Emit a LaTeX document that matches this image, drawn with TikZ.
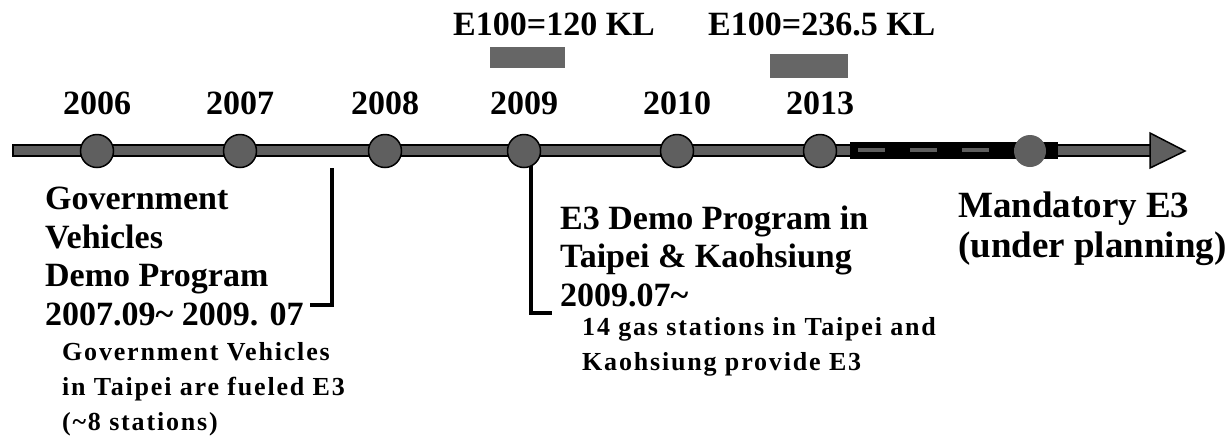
\documentclass[tikz,border=0pt]{standalone}
\usepackage{fontspec}
\setmainfont{Liberation Serif}
\usetikzlibrary{calc,positioning}
\definecolor{axisgray}{HTML}{5F5F5F}
\definecolor{bargray}{HTML}{666666}
\tikzset{
  year/.style={circle, minimum size=33pt, inner sep=0pt, fill=axisgray,
    draw=black, line width=1.5pt},
  yearlabel/.style={font=\bfseries\fontsize{34}{38}\selectfont,
    inner sep=0pt, anchor=base},
  bigtext/.style={font=\bfseries\fontsize{34}{38.5}\selectfont,
    inner sep=0pt, anchor=base west, align=left},
  smalltext/.style={font=\bfseries\fontsize{26}{35}\selectfont\addfontfeatures{LetterSpace=7},
    inner sep=0pt, anchor=base west, align=left},
  bracket/.style={line width=4.5pt},
}

\begin{document}
\begin{tikzpicture}[x=1pt, y=-1pt]
  \useasboundingbox (0,0) rectangle (1231,440);

  % time axis
  \draw[fill=axisgray, line width=1.5pt] (13,145) rectangle (1152,156);
  \draw[fill=axisgray, line width=1.5pt] (1150,133) -- (1185,151) -- (1150,168) -- cycle;

  % planned stretch
  \fill (850,142) rectangle (1058,159);
  \draw[axisgray, line width=4pt, dash pattern=on 27pt off 25pt] (858,150) -- (1030,150);
  \node[circle, fill=axisgray, minimum size=32pt, inner sep=0pt] (plan) at (1030,151) {};

  % years
  \foreach \yr/\xx in {2006/97, 2007/240, 2008/385, 2009/524, 2010/677, 2013/820} {
    \node[year] (y\yr) at (\xx,151) {};
    \node[yearlabel] (l\yr) at (\xx,114) {\yr};
  }

  % volumes
  \fill[bargray] (490,47) rectangle (565,68);
  \fill[bargray] (770,54) rectangle (848,78);
  \node[bigtext] (e120) at (453,35) {E100=120 KL};
  \node[bigtext] (e236) at (708,35) {E100=236.5 KL};

  % government vehicles (anchor = last baseline)
  \coordinate (gvtop) at (332,168);
  \coordinate (gvend) at (310,305);
  \draw[bracket] (gvtop) |- (gvend);
  \node[bigtext] (govprog) at (45,325) {Government\\Vehicles\\Demo Program\\2007.09\textasciitilde{} 2009. 07};
  \node[smalltext] (govnote) at (62,430) {Government Vehicles\\in Taipei are fueled E3\\(\textasciitilde 8 stations)};

  % E3 demo program
  \coordinate (e3top) at (531,166);
  \coordinate (e3end) at (552,313);
  \draw[bracket] (e3top) |- (e3end);
  \node[bigtext] (e3prog) at (560,306) {E3 Demo Program in\\Taipei \& Kaohsiung\\2009.07\textasciitilde};
  \node[smalltext] (e3note) at (582,370) {14 gas stations in Taipei and\\Kaohsiung provide E3};

  % mandatory
  \node[bigtext, font=\bfseries\fontsize{37}{40}\selectfont] (mand) at (958,257) {Mandatory E3\\(under planning)};
\end{tikzpicture}
\end{document}
